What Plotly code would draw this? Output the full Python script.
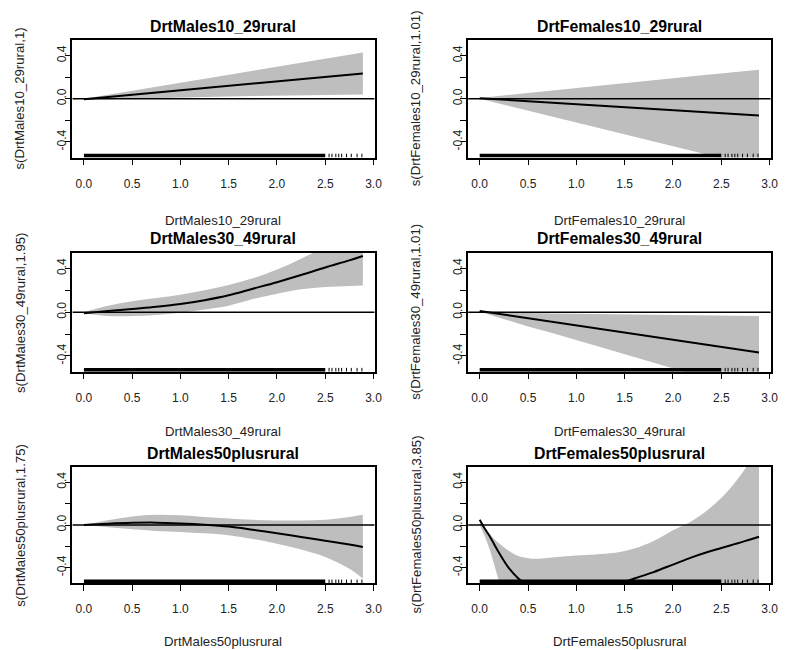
import plotly.graph_objects as go

# ---------------- data ----------------
titles = ["DrtMales10_29rural", "DrtFemales10_29rural",
          "DrtMales30_49rural", "DrtFemales30_49rural",
          "DrtMales50plusrural", "DrtFemales50plusrural"]
ylabels = ["s(DrtMales10_29rural,1)", "s(DrtFemales10_29rural,1.01)",
           "s(DrtMales30_49rural,1.95)", "s(DrtFemales30_49rural,1.01)",
           "s(DrtMales50plusrural,1.75)", "s(DrtFemales50plusrural,3.85)"]

x_grid = [0.0, 0.25, 0.5, 0.75, 1.0, 1.25, 1.5, 1.75, 2.0, 2.25, 2.5, 2.75, 2.89]

fit1 = [-0.005, 0.016, 0.037, 0.057, 0.078, 0.099, 0.12, 0.14, 0.161, 0.182, 0.203, 0.223, 0.235]
up1 = [0.0, 0.037, 0.075, 0.112, 0.149, 0.186, 0.223, 0.26, 0.298, 0.335, 0.372, 0.41, 0.43]
lo1 = [-0.01, -0.004, 0.003, 0.009, 0.015, 0.019, 0.022, 0.026, 0.03, 0.033, 0.036, 0.039, 0.04]

fit2 = [0.005, -0.009, -0.023, -0.037, -0.05, -0.064, -0.078, -0.092, -0.106, -0.12, -0.134, -0.147, -0.155]
up2 = [0.008, 0.03, 0.053, 0.076, 0.099, 0.122, 0.145, 0.168, 0.19, 0.213, 0.236, 0.259, 0.27]
lo2 = [0.0, -0.055, -0.11, -0.165, -0.22, -0.275, -0.33, -0.385, -0.44, -0.495, -0.55, -0.605, -0.636]

fit3 = [-0.01, 0.01, 0.03, 0.05, 0.075, 0.11, 0.155, 0.215, 0.275, 0.34, 0.41, 0.475, 0.515]
up3 = [0.0, 0.06, 0.1, 0.13, 0.16, 0.2, 0.25, 0.31, 0.39, 0.49, 0.6, 0.72, 0.79]
lo3 = [-0.01, -0.035, -0.035, -0.025, -0.005, 0.025, 0.06, 0.12, 0.17, 0.21, 0.23, 0.24, 0.245]

fit4 = [0.01, -0.023, -0.056, -0.089, -0.121, -0.154, -0.187, -0.22, -0.253, -0.286, -0.319, -0.352, -0.37]
up4 = [0.012, 0.0, -0.008, -0.013, -0.016, -0.018, -0.02, -0.022, -0.024, -0.027, -0.03, -0.033, -0.035]
lo4 = [0.005, -0.065, -0.13, -0.19, -0.255, -0.32, -0.385, -0.45, -0.515, -0.58, -0.645, -0.71, -0.745]

fit5 = [0.0, 0.012, 0.02, 0.022, 0.015, 0.003, -0.015, -0.045, -0.078, -0.112, -0.147, -0.183, -0.205]
up5 = [0.0, 0.045, 0.08, 0.095, 0.09, 0.075, 0.06, 0.048, 0.042, 0.042, 0.05, 0.075, 0.095]
lo5 = [0.0, -0.02, -0.04, -0.055, -0.065, -0.078, -0.095, -0.13, -0.175, -0.23, -0.3, -0.41, -0.5]

x6 = [0.0, 0.05, 0.1, 0.15, 0.2, 0.3, 0.4, 0.5, 0.6, 0.8, 1.0, 1.2, 1.4, 1.6, 1.8, 2.0, 2.2, 2.4, 2.6, 2.8, 2.89]
fit6 = [0.05, -0.03, -0.1, -0.18, -0.26, -0.4, -0.5, -0.57, -0.61, -0.64, -0.63, -0.6, -0.56, -0.5, -0.44, -0.37, -0.3, -0.24, -0.19, -0.135, -0.11]
up6 = [0.02, -0.03, -0.08, -0.13, -0.17, -0.24, -0.29, -0.31, -0.315, -0.3, -0.285, -0.275, -0.26, -0.22, -0.15, -0.05, 0.04, 0.17, 0.35, 0.6, 0.75]
lo6 = [0.0, -0.1, -0.22, -0.37, -0.52, -0.7, -0.8, -0.85, -0.88, -0.9, -0.9, -0.88, -0.85, -0.8, -0.75, -0.7, -0.66, -0.65, -0.66, -0.7, -0.72]

panel_x = [x_grid, x_grid, x_grid, x_grid, x_grid, x6]
panel_fit = [fit1, fit2, fit3, fit4, fit5, fit6]
panel_up = [up1, up2, up3, up4, up5, up6]
panel_lo = [lo1, lo2, lo3, lo4, lo5, lo6]
panel_shape = ["linear", "linear", "spline", "linear", "spline", "spline"]

# rug of observed covariate values: dense run then sparse values
rug_dense_start = 0.0
rug_dense_end = 2.5
rug_sparse = [2.54, 2.57, 2.61, 2.64, 2.67, 2.72, 2.77, 2.83, 2.88]

x_ticks = [0.0, 0.5, 1.0, 1.5, 2.0, 2.5, 3.0]
x_ticktext = ["0.0", "0.5", "1.0", "1.5", "2.0", "2.5", "3.0"]
y_ticks = [-0.4, -0.2, 0.0, 0.2, 0.4]
y_ticktext = ["-0.4", "", "0.0", "", "0.4"]

# ---------------- layout geometry ----------------
W, H = 787, 650
col_px = [(73, 378), (472.3, 777.7)]
row_px = [(40, 157.5), (252.7, 371.7), (466.7, 583.3)]
xtitle_y = [220, 431, 641]
title_y = [27, 238.3, 453.3]
ytitle_dx = 53

x_range = [-0.12, 3.012]
y_range = [-0.545, 0.545]
rug_h = 0.035

FONT = "Liberation Sans, Arial, Helvetica, sans-serif"
BAND = "#BEBEBE"

fig = go.Figure()
annotations = []
layout_axes = {}

for i in range(6):
    r, c = divmod(i, 2)
    n = i + 1
    xa = "x" if n == 1 else f"x{n}"
    ya = "y" if n == 1 else f"y{n}"
    xs = panel_x[i]
    shp = panel_shape[i]

    # confidence band (lower edge, then upper edge filled to it)
    fig.add_trace(go.Scatter(
        x=xs, y=panel_lo[i], mode="lines",
        line=dict(width=0, color=BAND, shape=shp),
        xaxis=xa, yaxis=ya, hoverinfo="skip", showlegend=False))
    fig.add_trace(go.Scatter(
        x=xs, y=panel_up[i], mode="lines", fill="tonexty", fillcolor=BAND,
        line=dict(width=0, color=BAND, shape=shp),
        xaxis=xa, yaxis=ya, hoverinfo="skip", showlegend=False))
    # zero line
    fig.add_trace(go.Scatter(
        x=[x_range[0], x_range[1]], y=[0, 0], mode="lines",
        line=dict(color="black", width=1.5),
        xaxis=xa, yaxis=ya, hoverinfo="skip", showlegend=False))
    # fitted smooth
    fig.add_trace(go.Scatter(
        x=xs, y=panel_fit[i], mode="lines",
        line=dict(color="black", width=2, shape=shp),
        xaxis=xa, yaxis=ya, showlegend=False))
    # rug: dense block
    yb = y_range[0]
    fig.add_trace(go.Scatter(
        x=[rug_dense_start, rug_dense_end, rug_dense_end, rug_dense_start],
        y=[yb, yb, yb + rug_h, yb + rug_h],
        fill="toself", fillcolor="black", mode="lines",
        line=dict(width=0, color="black"),
        xaxis=xa, yaxis=ya, hoverinfo="skip", showlegend=False))
    # rug: sparse ticks
    rx, ry = [], []
    for v in rug_sparse:
        rx += [v, v, None]
        ry += [yb, yb + rug_h, None]
    fig.add_trace(go.Scatter(
        x=rx, y=ry, mode="lines", line=dict(color="black", width=1),
        xaxis=xa, yaxis=ya, hoverinfo="skip", showlegend=False))

    x0, x1 = col_px[c]
    y0, y1 = row_px[r]
    axcommon = dict(showgrid=False, zeroline=False, showline=True, mirror=True,
                    linecolor="black", linewidth=1.5, ticks="outside",
                    ticklen=6, tickwidth=1, tickcolor="black",
                    tickfont=dict(family=FONT, size=12, color="#222"))
    layout_axes["xaxis" if n == 1 else f"xaxis{n}"] = dict(
        domain=[x0 / W, x1 / W], range=x_range, anchor=ya,
        tickmode="array", tickvals=x_ticks, ticktext=x_ticktext,
        ticklabelstandoff=8, **axcommon)
    layout_axes["yaxis" if n == 1 else f"yaxis{n}"] = dict(
        domain=[1 - y1 / H, 1 - y0 / H], range=y_range, anchor=xa,
        tickmode="array", tickvals=y_ticks, ticktext=y_ticktext,
        tickangle=-90, ticklabelstandoff=-6, **axcommon)

    cx = (x0 + x1) / 2
    cy = (y0 + y1) / 2
    annotations.append(dict(text=f"<b>{titles[i]}</b>", x=cx / W, y=1 - title_y[r] / H,
                            xref="paper", yref="paper", showarrow=False,
                            xanchor="center", yanchor="middle",
                            font=dict(family=FONT, size=15.8, color="black")))
    annotations.append(dict(text=titles[i], x=cx / W, y=1 - xtitle_y[r] / H,
                            xref="paper", yref="paper", showarrow=False,
                            xanchor="center", yanchor="middle",
                            font=dict(family=FONT, size=13.2, color="#222")))
    annotations.append(dict(text=ylabels[i], x=(x0 - ytitle_dx) / W, y=1 - cy / H,
                            xref="paper", yref="paper", showarrow=False,
                            xanchor="center", yanchor="middle", textangle=-90,
                            font=dict(family=FONT, size=13.2, color="#222")))

fig.update_layout(width=W, height=H, margin=dict(l=0, r=0, t=0, b=0),
                  paper_bgcolor="white", plot_bgcolor="white",
                  annotations=annotations, showlegend=False, **layout_axes)

fig.write_html("out.html", config={"displayModeBar": False},
               post_script="document.body.style.margin='0';document.body.style.padding='0';")
